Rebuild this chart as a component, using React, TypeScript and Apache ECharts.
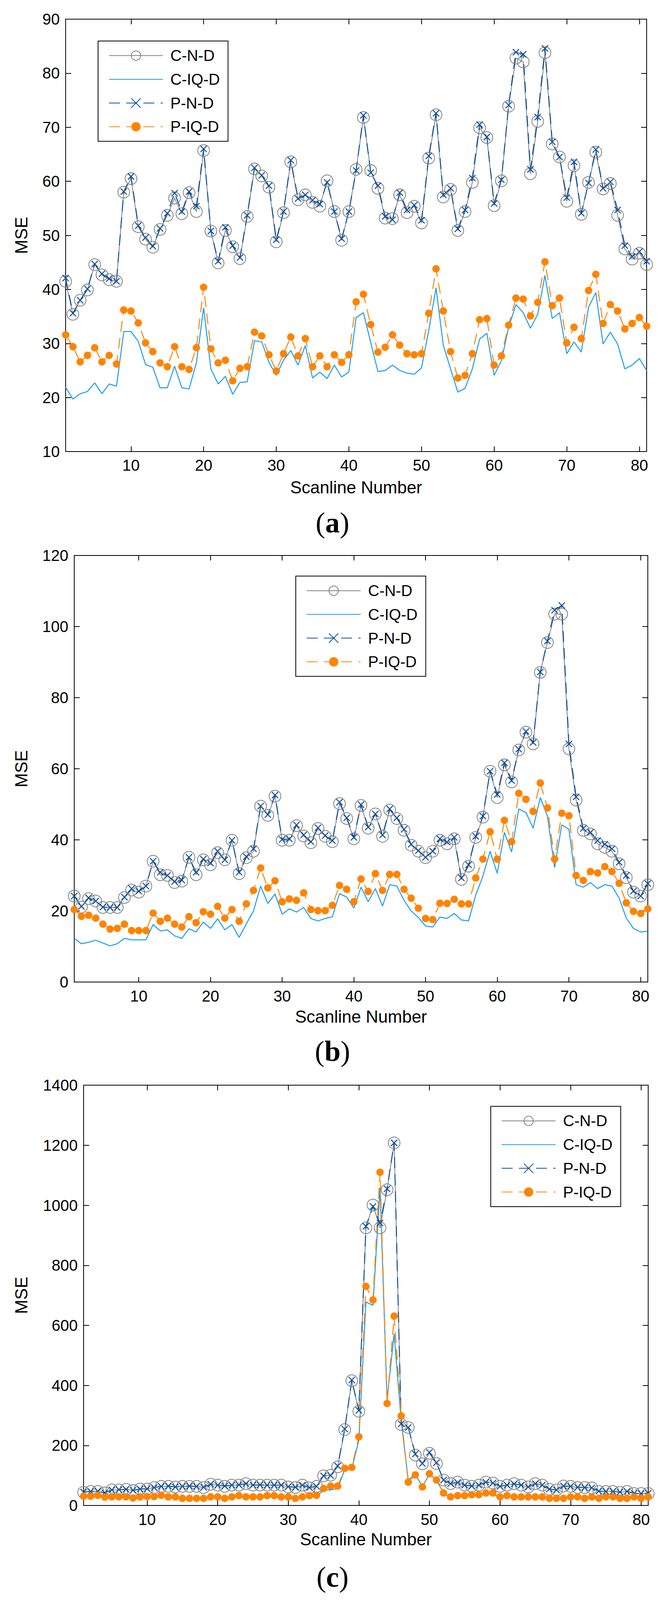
import React, { useEffect, useRef } from 'react';
import * as echarts from 'echarts';

// scanline numbers on the x axis
const scanlines = Array.from({ length: 81 }, (_, i) => String(i + 1));

// panel (a)
const cndA = [
  41.5, 35.4, 38.0, 39.9, 44.6, 42.7, 41.8, 41.5, 58.0, 60.5,
  51.6, 49.3, 47.8, 51.1, 53.7, 56.9, 54.0, 57.9, 54.4, 65.7,
  50.8, 44.9, 50.9, 47.9, 45.7, 53.5, 62.3, 61.0, 58.9, 48.8,
  54.2, 63.6, 56.6, 57.5, 56.1, 55.4, 60.1, 54.4, 49.1, 54.4,
  62.2, 71.8, 62.0, 58.7, 53.2, 53.1, 57.5, 54.2, 55.4, 52.3,
  64.3, 72.3, 57.1, 58.5, 50.9, 54.4, 59.8, 69.9, 68.1, 55.5,
  60.1, 73.9, 82.8, 82.1, 61.4, 71.1, 83.8, 66.9, 64.5, 56.3,
  62.9, 53.9, 59.8, 65.4, 58.6, 59.6, 53.7, 47.5, 45.6, 46.7,
  44.6,
];
const ciqdA = [
  21.9, 19.7, 20.7, 21.1, 22.7, 20.7, 22.5, 22.1, 32.2, 32.2,
  30.4, 26.1, 25.6, 21.8, 21.8, 25.8, 21.8, 21.6, 26.4, 36.6,
  25.3, 22.5, 23.9, 20.6, 22.8, 22.9, 30.5, 30.3, 26.5, 24.1,
  26.9, 28.7, 26.0, 29.6, 23.6, 24.7, 23.5, 26.0, 23.8, 24.7,
  34.8, 35.7, 30.2, 24.8, 25.0, 26.0, 25.0, 24.5, 24.3, 25.5,
  32.4, 40.3, 29.7, 25.3, 21.0, 21.7, 25.3, 30.8, 31.9, 24.1,
  26.8, 33.0, 37.2, 35.7, 32.8, 35.4, 42.6, 34.6, 35.7, 28.1,
  30.3, 28.4, 36.7, 39.4, 29.9, 32.1, 29.9, 25.3, 26.0, 27.2,
  25.0,
];
const pndA = [
  42.1, 35.6, 38.0, 40.1, 44.7, 42.9, 42.0, 41.5, 58.1, 60.9,
  51.8, 49.6, 48.0, 51.3, 54.1, 57.8, 54.4, 58.1, 55.4, 66.0,
  50.8, 45.2, 51.5, 48.1, 45.9, 53.7, 62.5, 61.1, 59.2, 49.2,
  54.4, 63.9, 56.8, 57.5, 56.5, 55.8, 59.8, 54.4, 49.4, 54.4,
  62.0, 72.2, 61.6, 59.2, 53.5, 52.9, 57.9, 54.7, 55.6, 52.8,
  64.7, 72.6, 57.5, 58.7, 51.2, 54.7, 60.6, 70.5, 68.2, 55.9,
  60.3, 74.1, 83.9, 83.5, 62.2, 71.9, 84.6, 67.3, 64.5, 57.0,
  63.6, 54.1, 59.7, 65.9, 58.7, 59.9, 54.7, 48.1, 46.1, 47.0,
  45.2,
];
const piqdA = [
  31.6, 29.4, 26.6, 27.8, 29.2, 26.6, 27.8, 26.2, 36.2, 36.0,
  33.8, 30.1, 28.5, 26.4, 25.7, 29.4, 25.7, 25.2, 29.2, 40.4,
  29.0, 26.4, 26.9, 23.1, 25.4, 25.7, 32.1, 31.4, 27.9, 24.9,
  28.1, 31.2, 27.7, 30.9, 25.7, 27.7, 25.7, 27.9, 26.5, 27.9,
  37.7, 39.1, 33.5, 28.4, 29.3, 31.6, 29.7, 28.1, 27.9, 28.1,
  35.6, 43.8, 36.0, 28.5, 23.6, 24.1, 28.1, 34.4, 34.6, 26.0,
  27.7, 33.4, 38.4, 38.2, 35.1, 37.6, 45.1, 37.0, 38.4, 30.1,
  33.0, 30.9, 39.8, 42.8, 33.7, 37.2, 36.0, 32.7, 33.7, 34.8,
  33.2,
];

// panel (b)
const cndB = [
  24.2, 21.1, 23.5, 22.8, 21.0, 21.0, 21.0, 23.8, 25.9, 25.3,
  27.0, 34.0, 30.2, 30.0, 28.0, 28.4, 35.1, 30.2, 34.4, 33.0,
  36.4, 34.4, 39.9, 30.5, 35.0, 36.8, 49.5, 46.9, 52.3, 39.9,
  39.9, 44.0, 41.1, 39.2, 43.2, 41.0, 39.5, 50.2, 46.0, 40.3,
  49.7, 43.3, 47.3, 41.0, 48.4, 46.0, 42.7, 38.5, 36.8, 35.0,
  36.8, 39.9, 38.9, 40.3, 28.9, 32.6, 40.7, 46.4, 59.3, 51.9,
  61.1, 56.3, 65.3, 70.3, 67.0, 87.1, 95.5, 103.5, 103.5, 65.6,
  51.2, 42.7, 41.7, 38.9, 37.9, 36.8, 33.3, 29.4, 25.3, 24.2,
  27.4,
];
const ciqdB = [
  12.3, 10.8, 11.2, 11.8, 11.0, 10.2, 10.8, 12.3, 11.9, 11.9,
  11.9, 16.2, 14.4, 14.7, 13.0, 12.3, 15.0, 14.1, 16.9, 15.1,
  17.8, 14.7, 16.2, 12.6, 16.4, 20.0, 27.0, 22.1, 24.8, 19.1,
  20.6, 19.7, 21.0, 17.9, 17.2, 17.9, 18.4, 24.9, 23.9, 20.8,
  26.7, 22.6, 26.3, 21.4, 27.4, 27.0, 23.0, 20.0, 18.2, 15.8,
  15.5, 18.3, 17.9, 19.3, 17.5, 17.2, 24.5, 29.8, 36.8, 30.6,
  42.1, 36.6, 48.7, 47.7, 43.3, 51.9, 46.7, 32.2, 44.2, 43.0,
  27.4, 26.7, 28.0, 26.3, 27.4, 27.0, 23.6, 18.0, 15.1, 14.1,
  14.3,
];
const pndB = [
  24.2, 21.3, 23.7, 22.8, 21.1, 21.0, 21.0, 23.9, 26.3, 25.6,
  27.0, 34.0, 30.9, 30.0, 28.3, 28.7, 35.1, 30.9, 34.6, 33.5,
  36.8, 34.4, 39.9, 30.9, 35.3, 37.5, 49.5, 47.1, 52.6, 40.1,
  40.3, 44.2, 41.4, 39.5, 43.4, 41.2, 39.8, 50.6, 46.2, 40.7,
  49.9, 43.6, 47.3, 41.4, 48.7, 46.2, 43.0, 38.8, 37.0, 35.1,
  36.8, 40.3, 39.4, 40.7, 29.3, 33.0, 41.0, 46.7, 59.3, 52.8,
  61.7, 56.7, 65.5, 70.5, 67.4, 87.2, 95.9, 104.6, 105.9, 67.0,
  52.1, 43.2, 42.1, 39.8, 38.8, 37.5, 33.7, 30.0, 25.6, 24.2,
  27.7,
];
const piqdB = [
  20.4, 18.5, 18.8, 18.0, 16.3, 14.9, 15.1, 16.3, 14.5, 14.5,
  14.5, 19.4, 17.1, 18.0, 16.3, 15.5, 18.4, 16.7, 19.8, 19.1,
  21.3, 18.0, 20.4, 17.1, 22.0, 25.8, 32.1, 26.5, 28.5, 22.6,
  23.4, 23.0, 25.1, 20.4, 20.1, 20.1, 21.6, 27.2, 26.1, 22.6,
  29.0, 25.5, 30.5, 25.8, 30.3, 30.3, 26.1, 23.6, 20.8, 17.9,
  17.6, 22.2, 22.1, 23.3, 22.0, 22.0, 29.3, 34.6, 42.3, 34.6,
  45.5, 39.5, 53.1, 51.4, 48.0, 56.0, 49.0, 34.6, 47.5, 46.8,
  30.0, 28.6, 31.1, 30.7, 32.5, 31.1, 27.8, 22.3, 19.9, 19.3,
  20.6,
];

// panel (c)
const cndC = [
  44, 47, 47, 42, 52, 52, 54, 50, 55, 55,
  60, 64, 64, 62, 64, 64, 64, 60, 71, 68,
  64, 68, 68, 73, 68, 68, 68, 68, 68, 62,
  60, 68, 59, 64, 99, 101, 129, 253, 416, 314,
  925, 1001, 925, 1052, 1208, 270, 260, 168, 139, 174,
  140, 85, 73, 78, 68, 64, 68, 78, 75, 64,
  68, 73, 68, 62, 73, 68, 54, 52, 65, 64,
  60, 60, 59, 47, 47, 47, 44, 47, 40, 40,
  40,
];
const ciqdC = [
  28, 28, 30, 25, 26, 26, 26, 22, 26, 27,
  27, 30, 26, 26, 22, 22, 22, 22, 26, 26,
  22, 26, 29, 26, 26, 26, 29, 29, 26, 26,
  22, 26, 29, 30, 52, 52, 57, 120, 122, 218,
  678, 667, 1057, 353, 572, 281, 85, 104, 64, 104,
  85, 42, 26, 30, 30, 33, 33, 38, 38, 26,
  30, 26, 26, 26, 26, 26, 22, 22, 22, 26,
  26, 22, 26, 22, 26, 26, 22, 22, 26, 22,
  26,
];
const pndC = [
  45, 47, 48, 43, 52, 53, 54, 51, 55, 56,
  60, 64, 65, 62, 64, 65, 64, 61, 71, 68,
  65, 68, 69, 73, 68, 69, 68, 68, 68, 63,
  61, 68, 60, 64, 99, 100, 132, 255, 418, 317,
  930, 996, 941, 1055, 1208, 272, 260, 172, 140, 177,
  143, 85, 73, 77, 68, 65, 68, 78, 75, 64,
  68, 72, 68, 62, 73, 68, 55, 52, 65, 64,
  61, 60, 59, 48, 47, 47, 45, 47, 41, 40,
  41,
];
const piqdC = [
  31, 31, 34, 28, 29, 29, 29, 25, 29, 30,
  30, 34, 29, 29, 24, 24, 24, 24, 29, 29,
  24, 29, 33, 29, 29, 29, 33, 33, 29, 29,
  24, 29, 33, 34, 57, 65, 65, 124, 127, 229,
  730, 685, 1110, 340, 631, 299, 78, 102, 62, 106,
  85, 42, 29, 33, 33, 36, 36, 42, 42, 29,
  33, 29, 29, 29, 29, 29, 24, 24, 24, 29,
  29, 24, 29, 24, 29, 29, 24, 24, 29, 24,
  29,
];

// y ranges [min, max, step]
const yRangeA = [10, 90, 10];
const yRangeB = [0, 120, 20];
const yRangeC = [0, 1400, 200];

const seriesNames = ['C-N-D', 'C-IQ-D', 'P-N-D', 'P-IQ-D'];
const panelLabels = ['a', 'b', 'c'];

const FONT = '"Liberation Sans", Arial, Helvetica, sans-serif';
const SERIF = '"Liberation Serif", "Times New Roman", serif';
const GRAY = '#808080';
const SKY = '#1b9bf0';
const NAVY = '#0b4f9c';
const ORANGE = '#ff8400';
const CLEAR = 'rgba(255,255,255,0)';
const CROSS = 'path://M0,0L10,10M10,0L0,10';

const showTen = (_: number, v: string) => Number(v) % 10 === 0;

function panelSeries(g: number, data: number[][]) {
  const [cnd, ciqd, pnd, piqd] = data;
  const base = { type: 'line', xAxisIndex: g * 2, yAxisIndex: g * 2, showAllSymbol: true };
  return [
    {
      ...base, name: seriesNames[0], data: cnd,
      symbol: 'circle', symbolSize: 30,
      lineStyle: { color: GRAY, width: 2 },
      itemStyle: { color: CLEAR, borderColor: GRAY, borderWidth: 2 },
    },
    {
      ...base, name: seriesNames[1], data: ciqd,
      showSymbol: false, symbol: 'circle',
      lineStyle: { color: SKY, width: 2.5 },
      itemStyle: { color: CLEAR, borderWidth: 0 },
    },
    {
      ...base, name: seriesNames[2], data: pnd,
      symbol: CROSS, symbolSize: 16,
      lineStyle: { color: NAVY, width: 2.5, type: [28, 16] },
      itemStyle: { color: NAVY, borderColor: NAVY, borderWidth: 2.5 },
    },
    {
      ...base, name: seriesNames[3], data: piqd,
      symbol: 'circle', symbolSize: 19,
      lineStyle: { color: ORANGE, width: 2.5, type: [28, 16] },
      itemStyle: { color: ORANGE },
    },
  ];
}

export default function App() {
  const ref = useRef<HTMLDivElement>(null);
  useEffect(() => {
    if (!ref.current) return;
    const chart = echarts.init(ref.current, undefined, { renderer: 'svg' });
    // layout measured on a 1702 x 4252 page, scaled to the real viewport
    const sx = ref.current.clientWidth / 1702;
    const sy = ref.current.clientHeight / 4252;

    const grids = [
      { left: 168, top: 51, width: 1487, height: 1149 },
      { left: 190, top: 1476, width: 1468, height: 1134 },
      { left: 214, top: 2884, width: 1445, height: 1117 },
    ].map((r) => ({ left: r.left * sx, top: r.top * sy, width: r.width * sx, height: r.height * sy }));
    const xNameGaps = [72, 69, 67];
    const yNameGaps = [92, 114, 138];
    const yRanges = [yRangeA, yRangeB, yRangeC];
    const legendPos = [
      { left: 251, top: 109 },
      { left: 757, top: 1531 },
      { left: 1256, top: 2940 },
    ];
    const labelY = [1389, 2793, 4190];

    const axisLine = { show: true, onZero: false, lineStyle: { color: '#000', width: 2 } };
    const xAxes: any[] = [];
    const yAxes: any[] = [];
    grids.forEach((_, g) => {
      ['bottom', 'top'].forEach((position) => {
        xAxes.push({
          type: 'category', gridIndex: g, position, data: scanlines, boundaryGap: false,
          axisLine,
          axisTick: { show: true, inside: true, length: 13, interval: showTen, lineStyle: { color: '#000', width: 2 } },
          axisLabel: { show: position === 'bottom', interval: showTen, color: '#000', fontSize: 40, fontFamily: FONT, margin: 16 * sy },
          splitLine: { show: false },
          name: position === 'bottom' ? 'Scanline Number' : '',
          nameLocation: 'middle', nameGap: xNameGaps[g] * sy,
          nameTextStyle: { color: '#000', fontSize: 44, fontFamily: FONT },
        });
      });
      ['left', 'right'].forEach((position) => {
        const [min, max, interval] = yRanges[g];
        yAxes.push({
          type: 'value', gridIndex: g, position, min, max, interval,
          axisLine,
          axisTick: { show: true, inside: true, length: 14, lineStyle: { color: '#000', width: 2 } },
          axisLabel: {
            show: position === 'left', color: '#000', fontSize: 40, fontFamily: FONT, margin: 15 * sx,
            formatter: (v: number) => String(v),
          },
          splitLine: { show: false },
          name: position === 'left' ? 'MSE' : '',
          nameLocation: 'middle', nameGap: yNameGaps[g] * sx, nameRotate: 90,
          nameTextStyle: { color: '#000', fontSize: 44, fontFamily: FONT },
        });
      });
    });

    const legends = legendPos.map((p) => ({
      left: p.left * sx, top: p.top * sy,
      orient: 'vertical', data: seriesNames, selectedMode: false,
      itemWidth: 138, itemHeight: 30, itemGap: 63 * sy - 40,
      padding: [18 * sy, 21, 18 * sy, 27],
      borderColor: '#000', borderWidth: 2, backgroundColor: '#fff',
      textStyle: { color: '#000', fontSize: 40, fontFamily: FONT, lineHeight: 40, padding: [0, 0, 0, 14] },
    }));

    chart.setOption({
      animation: false,
      backgroundColor: '#fff',
      grid: grids,
      xAxis: xAxes,
      yAxis: yAxes,
      legend: legends,
      series: [
        ...panelSeries(0, [cndA, ciqdA, pndA, piqdA]),
        ...panelSeries(1, [cndB, ciqdB, pndB, piqdB]),
        ...panelSeries(2, [cndC, ciqdC, pndC, piqdC]),
      ],
      graphic: panelLabels.map((l, i) => ({
        type: 'text', left: 'center', top: (labelY[i] - 38) * sy,
        style: {
          text: `{p|(}{b|${l}}{p|)}`,
          rich: {
            p: { fontSize: 74, fontFamily: SERIF, fill: '#000' },
            b: { fontSize: 74, fontWeight: 'bold', fontFamily: SERIF, fill: '#000' },
          },
        },
      })),
    });
    return () => chart.dispose();
  }, []);
  return <div ref={ref} style={{ position: 'absolute', left: 0, top: 0, width: '100vw', height: '100vh' }} />;
}
